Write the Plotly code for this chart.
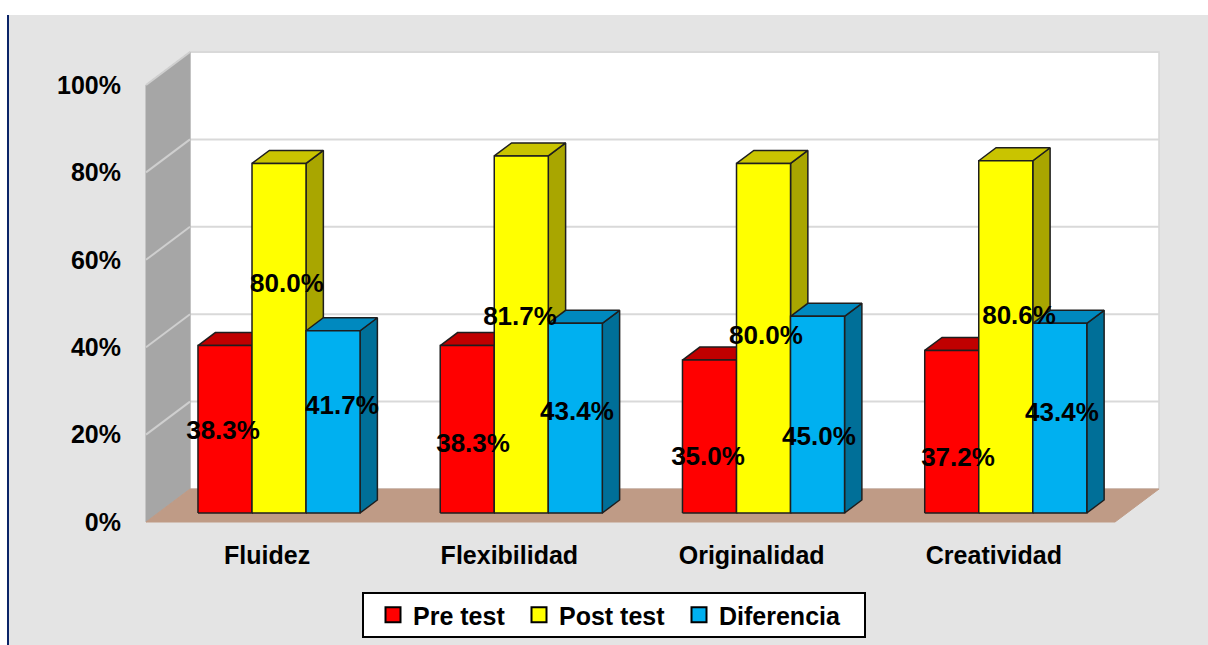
import plotly.graph_objects as go

# ---- data -------------------------------------------------------------
categories = ["Fluidez", "Flexibilidad", "Originalidad", "Creatividad"]
series_names = ["Pre test", "Post test", "Diferencia"]
pre_test = [38.3, 38.3, 35.0, 37.2]
post_test = [80.0, 81.7, 80.0, 80.6]
diferencia = [41.7, 43.4, 45.0, 43.4]
y_ticks = [0, 20, 40, 60, 80, 100]
y_tick_labels = ["0%", "20%", "40%", "60%", "80%", "100%"]

series_values = [pre_test, post_test, diferencia]

# ---- label placement (axis units, one list per series) ----------------
label_x = [
    [0.318, 1.350, 2.320, 3.352],
    [0.582, 1.544, 2.559, 3.604],
    [0.809, 1.779, 2.778, 3.781],
]
label_y = [
    [20.4, 17.6, 14.6, 14.2],
    [54.2, 46.5, 42.3, 46.9],
    [26.3, 24.9, 19.2, 24.5],
]

# ---- styles -----------------------------------------------------------
front_colors = ["#ff0000", "#ffff00", "#00b0f0"]
top_colors = ["#c00000", "#c9c400", "#0089bf"]
side_colors = ["#a00000", "#a9a600", "#006f98"]
edge_color = "#1e1e1e"
FONT = "Liberation Sans, Arial, sans-serif"
FONT_SIZE = 25
LABEL_SIZE = 26
legend_entry_widths = [101, 115, 130]

# ---- geometry ---------------------------------------------------------
W, H = 1208, 645
M_L, M_R, M_T, M_B = 124, 28, 45, 115
PX_PER_CAT = 242.25
PX_PER_PCT = 4.37
FRONT_LEFT_PX = 146
FLOOR_FRONT_PX = 522

x_range = [(M_L - FRONT_LEFT_PX) / PX_PER_CAT, (W - M_R - FRONT_LEFT_PX) / PX_PER_CAT]
y_range = [-(H - M_B - FLOOR_FRONT_PX) / PX_PER_PCT, (FLOOR_FRONT_PX - M_T) / PX_PER_PCT]

# oblique depth offset of the 3-D box
DX = 44 / PX_PER_CAT
DY = 33 / PX_PER_PCT
Z0, Z1 = 0.273, 0.667          # bar front / back depth
BAR_OFFSET, BAR_W = 0.165, 0.223
N = len(categories)


def proj(x, y, z):
    return x + z * DX, y + z * DY


def poly(points):
    xs = [p[0] for p in points] + [points[0][0]]
    ys = [p[1] for p in points] + [points[0][1]]
    return xs, ys


def add_face(fig, point_sets, fill, line_color, line_width):
    xs, ys = [], []
    for pts in point_sets:
        px, py = poly(pts)
        xs += px + [None]
        ys += py + [None]
    fig.add_trace(go.Scatter(
        x=xs, y=ys, mode="lines", fill="toself", fillcolor=fill,
        line=dict(color=line_color, width=line_width),
        hoverinfo="skip", showlegend=False))


fig = go.Figure()

# walls and floor
add_face(fig, [[proj(0, 0, 1), proj(N, 0, 1), proj(N, 100, 1), proj(0, 100, 1)]],
         "#ffffff", "#d6d6d6", 1.5)
for t in y_ticks[1:]:
    a, b = proj(0, t, 1), proj(N, t, 1)
    fig.add_trace(go.Scatter(x=[a[0], b[0]], y=[a[1], b[1]], mode="lines",
                             line=dict(color="#d9d9d9", width=2),
                             hoverinfo="skip", showlegend=False))
add_face(fig, [[proj(0, 0, 0), proj(0, 100, 0), proj(0, 100, 1), proj(0, 0, 1)]],
         "#a6a6a6", "#a6a6a6", 1)
for t in y_ticks[1:]:
    a, b = proj(0, t, 0), proj(0, t, 1)
    fig.add_trace(go.Scatter(x=[a[0], b[0]], y=[a[1], b[1]], mode="lines",
                             line=dict(color="#cfcfcf", width=2),
                             hoverinfo="skip", showlegend=False))
add_face(fig, [[proj(0, 0, 0), proj(N, 0, 0), proj(N, 0, 1), proj(0, 0, 1)]],
         "#bf9b86", "#bf9b86", 1)

# bars: side, top, front for each series, left to right
for k, vals in enumerate(series_values):
    sides, tops, fronts = [], [], []
    for g, v in enumerate(vals):
        x0 = g + BAR_OFFSET + k * BAR_W
        x1 = x0 + BAR_W
        sides.append([proj(x1, 0, Z0), proj(x1, 0, Z1), proj(x1, v, Z1), proj(x1, v, Z0)])
        tops.append([proj(x0, v, Z0), proj(x1, v, Z0), proj(x1, v, Z1), proj(x0, v, Z1)])
        fronts.append([proj(x0, 0, Z0), proj(x1, 0, Z0), proj(x1, v, Z0), proj(x0, v, Z0)])
    add_face(fig, sides, side_colors[k], edge_color, 1.5)
    add_face(fig, tops, top_colors[k], edge_color, 1.5)
    add_face(fig, fronts, front_colors[k], edge_color, 1.5)

# value labels
for k, vals in enumerate(series_values):
    fig.add_trace(go.Scatter(
        x=label_x[k], y=label_y[k], mode="text",
        text=[f"{v:.1f}%" for v in vals],
        textposition="middle center",
        textfont=dict(family=FONT, size=LABEL_SIZE, color="#000000", weight="bold"),
        cliponaxis=False, hoverinfo="skip", showlegend=False))

# legend entries
for k, name in enumerate(series_names):
    fig.add_trace(go.Scatter(
        x=[None], y=[None], mode="markers", name=name,
        legendwidth=legend_entry_widths[k],
        marker=dict(symbol="square", size=15, color=front_colors[k],
                    line=dict(color="#000000", width=2))))

plot_w = W - M_L - M_R
plot_h = H - M_T - M_B


def paper_x(px):
    return (px - M_L) / plot_w


def paper_y(py):
    return (H - M_B - py) / plot_h


fig.update_layout(
    width=W, height=H,
    margin=dict(l=M_L, r=M_R, t=M_T, b=M_B, pad=0, autoexpand=False),
    paper_bgcolor="#e4e4e4",
    plot_bgcolor="rgba(0,0,0,0)",
    font=dict(family=FONT, size=FONT_SIZE, color="#000000"),
    showlegend=True,
    legend=dict(
        orientation="h", xref="container", yref="container",
        x=373 / W, xanchor="left",
        y=1 - 615 / H, yanchor="middle",
        bgcolor="rgba(0,0,0,0)", borderwidth=0,
        font=dict(family=FONT, size=FONT_SIZE, color="#000000", weight="bold"),
        itemsizing="trace",
    ),
    shapes=[
        # white page strip above and left of the panel, plus the left rule
        dict(type="rect", xref="paper", yref="paper", layer="below",
             x0=paper_x(-2), x1=paper_x(W + 2), y0=paper_y(15), y1=paper_y(-2),
             fillcolor="#ffffff", line=dict(width=0)),
        dict(type="rect", xref="paper", yref="paper", layer="below",
             x0=paper_x(-2), x1=paper_x(7), y0=paper_y(H + 2), y1=paper_y(-2),
             fillcolor="#ffffff", line=dict(width=0)),
        dict(type="line", xref="paper", yref="paper", layer="below",
             x0=paper_x(8), x1=paper_x(8), y0=paper_y(H + 2), y1=paper_y(15),
             line=dict(color="#0b2468", width=2)),
        # legend frame
        dict(type="rect", xref="paper", yref="paper", layer="below",
             x0=paper_x(363), x1=paper_x(865), y0=paper_y(637), y1=paper_y(593),
             fillcolor="#ffffff", line=dict(color="#000000", width=2)),
    ],
    xaxis=dict(
        range=x_range, showgrid=False, zeroline=False, showline=False,
        tickvals=[g + 0.5 for g in range(N)], ticktext=categories, ticks="",
        tickfont=dict(family=FONT, size=FONT_SIZE, color="#000000", weight="bold"),
        ticklabelstandoff=8, fixedrange=True, automargin=False,
    ),
    yaxis=dict(
        range=y_range, showgrid=False, zeroline=False, showline=False,
        tickvals=y_ticks, ticktext=y_tick_labels, ticks="",
        tickfont=dict(family=FONT, size=FONT_SIZE, color="#000000", weight="bold"),
        ticklabelstandoff=2, fixedrange=True, automargin=False,
    ),
)

fig.write_html("out.html")
